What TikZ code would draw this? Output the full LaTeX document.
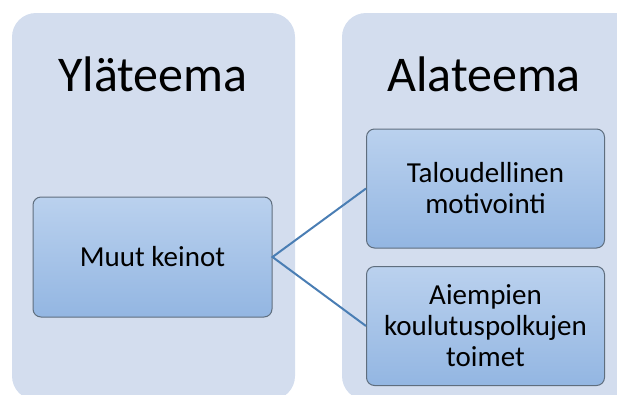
\documentclass[tikz,border=0pt]{standalone}
\usepackage{fontspec}
\setmainfont{Carlito}
\usetikzlibrary{positioning, shapes.misc}
\definecolor{panelfill}{HTML}{D3DDEE}
\definecolor{boxtop}{HTML}{BAD1EE}
\definecolor{boxbottom}{HTML}{93B6E2}
\definecolor{boxborder}{HTML}{5F6E7E}
\definecolor{linkblue}{HTML}{4A7EB4}
\tikzset{
    panel/.style={rectangle, draw=none, fill=panelfill, rounded corners=24pt},
    topic/.style={rectangle, rounded corners=8pt, draw=boxborder, line width=1pt,
        top color=boxtop, bottom color=boxbottom,
        minimum width=238pt, minimum height=119pt, align=center,
        font=\fontsize{29}{31}\selectfont},
    heading/.style={anchor=base, font=\fontsize{50}{60}\selectfont},
    link/.style={draw=linkblue, line width=2pt},
}
\begin{document}
\begin{tikzpicture}[x=1pt, y=-1pt]
    \useasboundingbox (0,0) rectangle (617,394);
    \clip (0,0) rectangle (617,394);

    \node[panel, minimum width=283pt, minimum height=387pt] (ylapanel) at (153.5,206.5) {};
    \node[panel, minimum width=298pt, minimum height=387pt] (alapanel) at (491,206.5) {};

    \node[heading] (ylateema) at (153,91) {Yläteema};
    \node[heading] (alateema) at (484,91) {Alateema};

    \node[topic, minimum width=239pt, minimum height=120pt] (keinot) at (152.5,257) {Muut keinot};
    \node[topic] (talous) at (485.5,188.5) {Taloudellinen\\motivointi};
    \node[topic] (polut) at (485.5,326) {Aiempien\\koulutuspolkujen\\toimet};

    \draw[link] (talous.west) -- (keinot.east) -- (polut.west);
\end{tikzpicture}
\end{document}
